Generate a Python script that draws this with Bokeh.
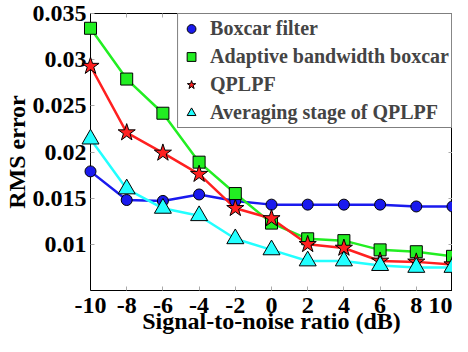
from bokeh.plotting import figure
from bokeh.models import FixedTicker, LinearAxis, Legend, LegendItem, Range1d
from bokeh.embed import file_html
from bokeh.resources import INLINE

snr = [-10, -8, -6, -4, -2, 0, 2, 4, 6, 8, 10]
boxcar = [0.0179, 0.0148, 0.0147, 0.0154, 0.0147, 0.0143, 0.0143, 0.0143, 0.0143, 0.0141, 0.0141]
adaptive = [0.0334, 0.0279, 0.0242, 0.0189, 0.0155, 0.0123, 0.0106, 0.0104, 0.0094, 0.0092, 0.0087]
qplpf = [0.0293, 0.0221, 0.0199, 0.0176, 0.0139, 0.0128, 0.0100, 0.0096, 0.0082, 0.0081, 0.0078]
averaging = [0.0214, 0.0160, 0.0139, 0.0131, 0.0106, 0.0094, 0.0082, 0.0082, 0.0077, 0.0075, 0.0075]

x_ticks = [-10, -8, -6, -4, -2, 0, 2, 4, 6, 8, 10]
x_tick_labels = ["-10", "-8", "-6", "-4", "-2", "0", "2", "4", "6", "8", "10"]
y_ticks = [0.01, 0.015, 0.02, 0.025, 0.03, 0.035]
y_tick_labels = ["0.01", "0.015", "0.02", "0.025", "0.03", "0.035"]
series_names = ["Boxcar filter", "Adaptive bandwidth boxcar", "QPLPF", "Averaging stage of QPLPF"]

FONT = "Liberation Serif"

p = figure(width=452, height=336, output_backend="svg", toolbar_location=None,
           x_range=Range1d(-10, 10), y_range=Range1d(0.005, 0.035),
           min_border_left=0, min_border_right=0, min_border_top=13, min_border_bottom=0)
p.background_fill_color = "white"
p.border_fill_color = "white"
p.outline_line_color = "black"
p.outline_line_width = 1
p.grid.visible = False

for ax in (p.xaxis[0], p.yaxis[0]):
    ax.major_label_text_font = FONT
    ax.major_label_text_font_size = "24px"
    ax.major_label_text_font_style = "bold"
    ax.major_label_text_color = "black"
    ax.axis_label_text_font = FONT
    ax.axis_label_text_font_size = "24px"
    ax.axis_label_text_font_style = "bold"
    ax.axis_label_text_color = "black"
    ax.axis_line_color = "black"
    ax.major_tick_in = 4
    ax.major_tick_out = 0
    ax.major_tick_line_color = "#aaaaaa"
    ax.minor_tick_line_color = None

p.xaxis[0].ticker = FixedTicker(ticks=x_ticks)
p.xaxis[0].major_label_overrides = {t: l for t, l in zip(x_ticks, x_tick_labels)}
p.yaxis[0].ticker = FixedTicker(ticks=y_ticks)
p.yaxis[0].major_label_overrides = {t: l for t, l in zip(y_ticks, y_tick_labels)}
p.xaxis[0].axis_label = "Signal-to-noise ratio (dB)"
p.yaxis[0].axis_label = "RMS error"
p.xaxis[0].major_label_standoff = 7
p.xaxis[0].axis_label_standoff = -8
p.yaxis[0].major_label_standoff = 4
p.yaxis[0].axis_label_standoff = 0

for loc, ticks in (("above", x_ticks), ("right", y_ticks)):
    ax = LinearAxis(ticker=FixedTicker(ticks=ticks), major_label_text_font_size="1px",
                    major_label_overrides={t: "" for t in ticks},
                    major_label_standoff=0, axis_line_color=None, major_tick_in=4,
                    major_tick_out=0, major_tick_line_color="#aaaaaa",
                    minor_tick_line_color=None)
    p.add_layout(ax, loc)

specs = [
    (boxcar, "#1a1aee", "circle", 11),
    (adaptive, "#22ee22", "square", 12),
    (qplpf, "#ff2020", "star", 18),
    (averaging, "#22ffff", "triangle", 17),
]
items = []
for (vals, color, marker, size), name in zip(specs, series_names):
    p.line(snr, vals, line_color=color, line_width=2.5)
    r = p.scatter(snr, vals, marker=marker, size=size, fill_color=color,
                  line_color="black", line_width=1, level="overlay")
    items.append(LegendItem(label=name, renderers=[r]))

legend = Legend(items=items, location="top_right", margin=0, padding=2, spacing=3,
                label_text_font=FONT, label_text_font_size="20px",
                label_text_font_style="bold", label_height=25,
                glyph_height=25, glyph_width=22, label_standoff=8,
                border_line_color="black", border_line_width=1,
                background_fill_color="white", background_fill_alpha=1)
p.add_layout(legend)

open("out.html", "w").write(file_html(p, INLINE))
